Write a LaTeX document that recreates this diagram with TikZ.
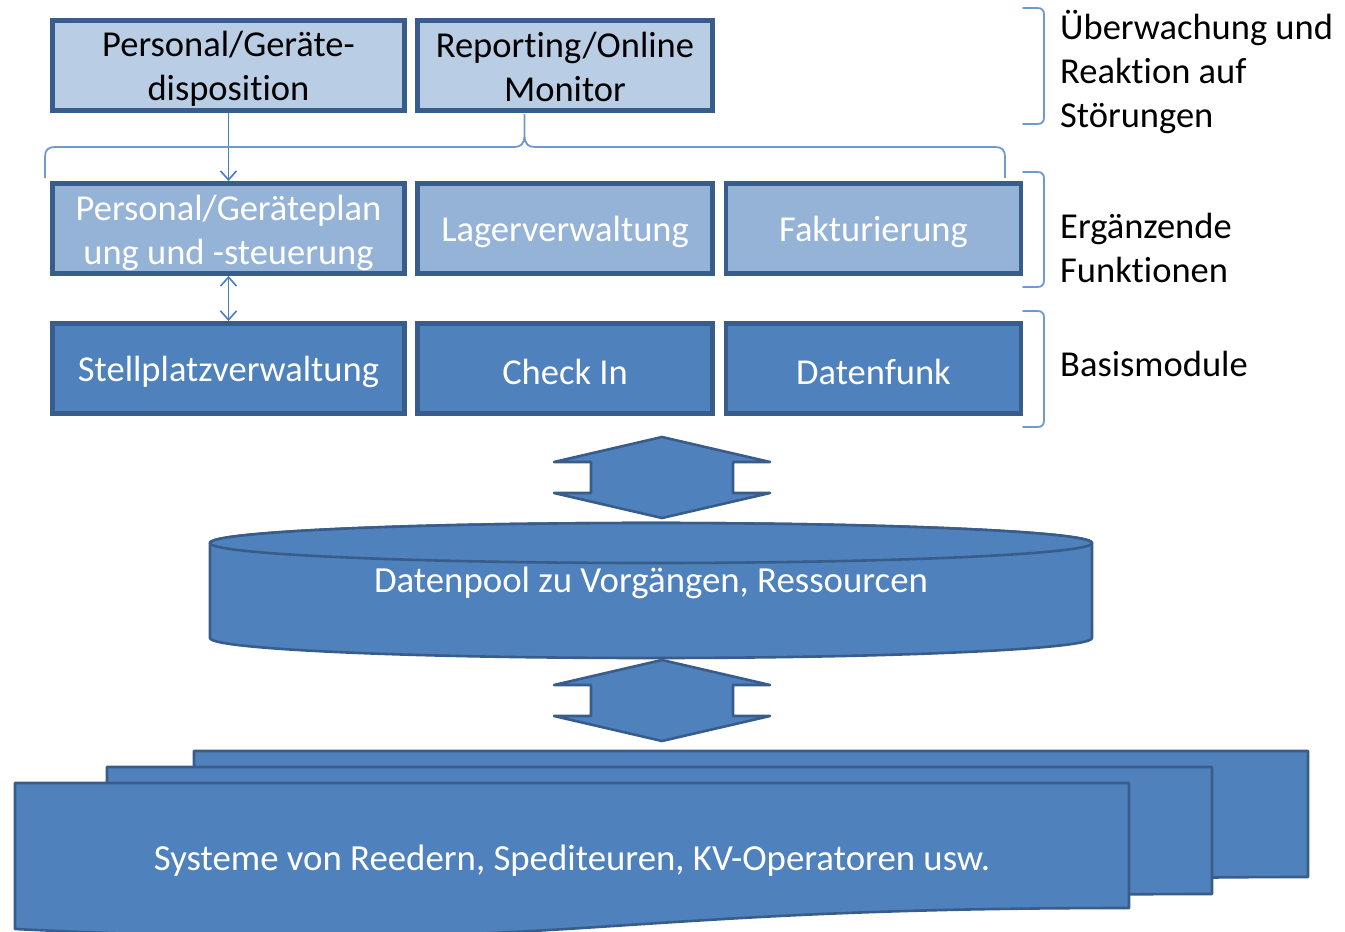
\documentclass[tikz,border=0pt]{standalone}
\usepackage{fontspec}
\setmainfont{Carlito}[Ligatures=NoCommon]
\usetikzlibrary{arrows.meta}

\definecolor{lightfill}{HTML}{B9CDE5}
\definecolor{midfill}{HTML}{95B3D7}
\definecolor{basefill}{HTML}{4F81BD}
\definecolor{edgeblue}{HTML}{385D8A}
\definecolor{linkblue}{HTML}{4A7EBB}
\definecolor{braceblue}{HTML}{7098CE}

\tikzset{
  modbox/.style={rectangle, draw=edgeblue, line width=4.8pt, minimum height=90pt,
    inner sep=0pt, align=center, font=\fontsize{36.5}{44}\selectfont,
    execute at begin node={\rule{0pt}{33pt}}},
  toprow/.style={modbox, fill=lightfill, text=black},
  midrow/.style={modbox, fill=midfill, text=white},
  baserow/.style={modbox, fill=basefill, text=white},
  wideA/.style={minimum width=352pt},
  wideB/.style={minimum width=295pt},
  % two-line captions set on top of their box, nudged down a little
  boxtext/.style={inner sep=0pt, align=center, font=\fontsize{36.5}{44}\selectfont},
  link/.style={draw=linkblue, line width=1.6pt, {Straight Barb[length=9pt,width=16pt]}-{Straight Barb[length=9pt,width=16pt]}},
  linkone/.style={draw=linkblue, line width=1.6pt, -{Straight Barb[length=9pt,width=16pt]}},
  bracket/.style={draw=braceblue, line width=1.8pt, line cap=round},
  sidelabel/.style={anchor=west, align=left, inner sep=0pt, text=black,
    font=\fontsize{36.5}{44}\selectfont},
  bigshape/.style={draw=edgeblue, fill=basefill, line width=2.6pt, line join=round},
  inlabel/.style={text=white, inner sep=0pt, font=\fontsize{36.8}{44}\selectfont}
}

\begin{document}
\begin{tikzpicture}[x=1pt,y=-1pt]
\clip (0,0) rectangle (1345,932);
\fill[white] (0,0) rectangle (1345,932);

% --- module rows ---
\node[toprow, wideA, label={[boxtext, text=black, yshift=-3pt]center:{Personal/Geräte-\\disposition}}]
  (disp) at (228.5,65.5) {};
\node[toprow, wideB, label={[boxtext, text=black, yshift=-1.5pt]center:{Reporting/Online\\Monitor}}]
  (report) at (565,65.5) {};

\node[midrow, wideA, label={[boxtext, text=white, yshift=-4.5pt]center:{Personal/Geräteplan\\ung und -steuerung}}]
  (plan) at (228.5,228.5) {};
\node[midrow, wideB] (lager) at (565,228.5) {Lagerverwaltung};
\node[midrow, wideB] (faktur) at (873.5,228.5) {Fakturierung};

\node[baserow, wideA] (stell) at (228.5,368.5) {Stellplatzverwaltung};
\node[baserow, wideB] (checkin) at (565,368.5) {Check In};
\node[baserow, wideB] (funk) at (873.5,368.5) {Datenfunk};

% --- links between modules ---
\draw[linkone] (disp.south) -- (plan.north);
\draw[link] (plan.south) -- (stell.north);

% --- brace below the monitoring row ---
\coordinate (tip) at (524.5,114);
\draw[bracket, line cap=butt] (45,178) -- (45,157) .. controls (45,150) and (48,147) .. (55,147)
  -- (514,147) .. controls (521,147) and (524,144) .. (524.5,136) -- (tip)
  (524.5,136) .. controls (525,144) and (528,147) .. (535,147)
  -- (995,147) .. controls (1002,147) and (1005,150) .. (1005,157) -- (1005,178);

% --- brackets and labels on the right ---
\draw[bracket] (1023,8) -- (1037,8) .. controls (1042,8) and (1044,10) .. (1044,15)
  -- (1044,117) .. controls (1044,122) and (1042,124) .. (1037,124) -- (1023,124);
\draw[bracket] (1023,172) -- (1037,172) .. controls (1042,172) and (1044,174) .. (1044,179)
  -- (1044,280) .. controls (1044,285) and (1042,287) .. (1037,287) -- (1023,287);
\draw[bracket] (1023,311) -- (1037,311) .. controls (1042,311) and (1044,313) .. (1044,318)
  -- (1044,420) .. controls (1044,425) and (1042,427) .. (1037,427) -- (1023,427);

\node[sidelabel] (lab1) at (1060,72) {Überwachung und\\Reaktion auf\\Störungen};
\node[sidelabel] (lab2) at (1060,248) {Ergänzende\\Funktionen};
\node[sidelabel] (lab3) at (1060,364) {Basismodule};

% --- external systems (stacked documents) ---
\draw[bigshape] (194,751) -- (1308,751) -- (1308,877)
  .. controls (751,877) and (751,925) .. (194,898) -- cycle;
\draw[bigshape] (107,767) -- (1212,767) -- (1212,894)
  .. controls (659.5,894) and (659.5,942) .. (107,915) -- cycle;
\draw[bigshape] (15,783) -- (1129,783) -- (1129,908)
  .. controls (572,908) and (572,956) .. (15,929) -- cycle;
\node[inlabel] (systems) at (572,861) {Systeme von Reedern, Spediteuren, KV-Operatoren usw.};

% --- data pool cylinder ---
\draw[bigshape] (210,543) -- (210,638)
  .. controls (210,649.05) and (407.4,658) .. (651,658)
  .. controls (894.6,658) and (1092,649.05) .. (1092,638)
  -- (1092,543)
  .. controls (1092,531.95) and (894.6,523) .. (651,523)
  .. controls (407.4,523) and (210,531.95) .. (210,543) -- cycle;
\draw[bigshape] (210,543)
  .. controls (210,531.95) and (407.4,523) .. (651,523)
  .. controls (894.6,523) and (1092,531.95) .. (1092,543)
  .. controls (1092,554.05) and (894.6,563) .. (651,563)
  .. controls (407.4,563) and (210,554.05) .. (210,543) -- cycle;
\node[inlabel] (pool) at (651,583) {Datenpool zu Vorgängen, Ressourcen};

% --- block double arrows between the layers ---
\coordinate (upper) at (662,477.5);
\coordinate (lower) at (662,700.5);
\foreach \c in {upper,lower}{
  \draw[bigshape] (\c) ++(0,-40.5) -- ++(108,25) -- ++(-37,0) -- ++(0,31)
    -- ++(37,0) -- ++(-108,25) -- ++(-108,-25) -- ++(37,0) -- ++(0,-31)
    -- ++(-37,0) -- cycle;
}
\end{tikzpicture}
\end{document}
